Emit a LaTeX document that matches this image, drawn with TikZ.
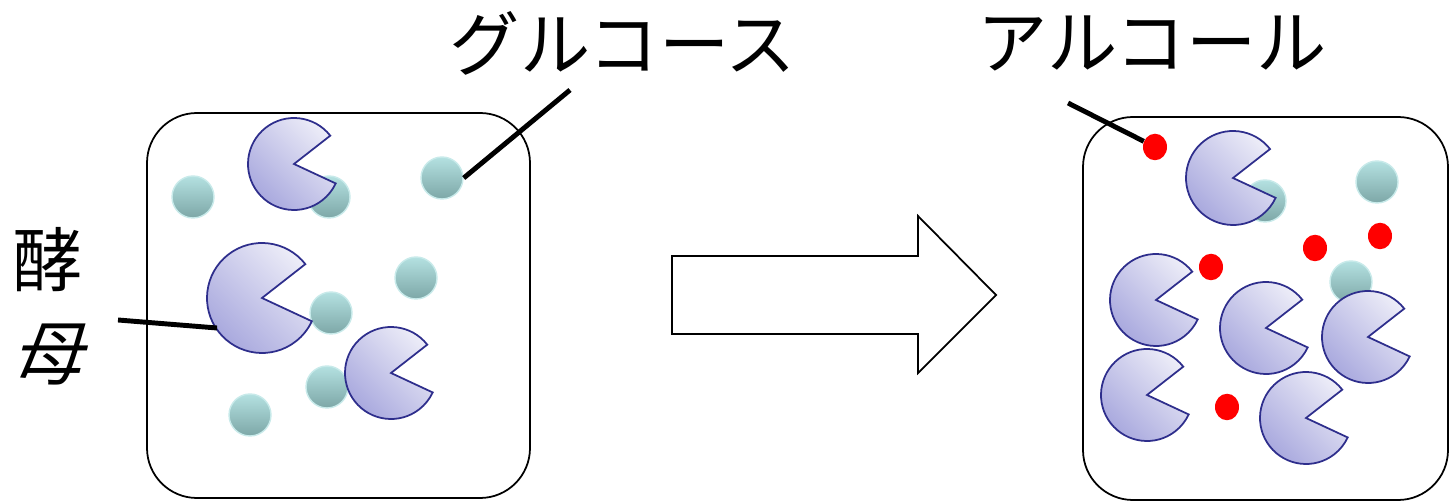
\documentclass[tikz,border=0pt]{standalone}
\usepackage{fontspec}
\newfontfamily\jpfont{Noto Sans CJK JP}
\newfontfamily\jpslant[FakeSlant=0.25]{Noto Sans CJK JP}
\usetikzlibrary{shapes.geometric, positioning}

\definecolor{yeastline}{HTML}{2E2E8C}
\definecolor{yeastlight}{HTML}{EDEDF8}
\definecolor{yeastdark}{HTML}{A4A4DC}
\definecolor{glutop}{HTML}{B4E1E1}
\definecolor{glubot}{HTML}{7DA7A7}
\definecolor{glurim}{HTML}{C8EAEA}

\tikzset{
  box/.style={draw, line width=1pt, rounded corners=1cm},
  glucose/.style={circle, minimum size=0.84cm, inner sep=0pt,
    top color=glutop, bottom color=glubot, draw=glurim, line width=0.8pt},
  alcohol/.style={ellipse, minimum width=0.48cm, minimum height=0.53cm,
    inner sep=0pt, fill=red},
  yeast/.style={draw=yeastline, line width=1pt, top color=yeastlight,
    bottom color=yeastdark, shading angle=-45},
  pointer/.style={line width=2.8pt},
  jplabel/.style={font=\jpfont\fontsize{40}{53}\selectfont, inner sep=0pt}
}

\begin{document}
\begin{tikzpicture}[x=0.02cm, y=-0.02cm]
\useasboundingbox (0,0) rectangle (1450,502);

% before: glucose + yeast
\draw[box] (147,113) rectangle (530,498);
\foreach \x/\y [count=\i] in {193/197, 329/197, 442/178, 416/278, 331/313, 327/387, 250/415}
  \node[glucose] (g\i) at (\x,\y) {};
\foreach \x/\y/\r in {294/164/46, 262/298/55, 391/373/46}
  \draw[yeast] (\x,\y) -- ++(-38:\r) arc (-38:-335:\r) -- cycle;
\coordinate (ybody) at (217,328);

% arrow
\draw[line width=1pt, fill=white] (672,256) -- (918,256) -- (918,216) -- (996,295)
  -- (918,373) -- (918,334) -- (672,334) -- cycle;

% after: alcohol
\draw[box] (1083,117) rectangle (1448,500);
\foreach \x/\y [count=\i] in {1265/201, 1377/182, 1351/282}
  \node[glucose] (h\i) at (\x,\y) {};
\foreach \x/\y/\r in {1233/178/47, 1156/300/46, 1266/328/46, 1368/337/46, 1147/395/46, 1306/418/46}
  \draw[yeast] (\x,\y) -- ++(-38:\r) arc (-38:-335:\r) -- cycle;
\foreach \x/\y [count=\i] in {1155/147, 1315/248, 1380/236, 1211/267, 1227/407}
  \node[alcohol] (a\i) at (\x,\y) {};

% labels
\node[jplabel] (glu) at (623,43) {グルコース};
\node[jplabel] (alc) at (1152,43) {アルコール};
\node[jplabel, align=center] (kobo) at (48,306) {酵\\{\jpslant 母}};

\coordinate (gtip) at (570,90);
\coordinate (ytip) at (118,320);
\coordinate (atip) at (1068,103);
\draw[pointer] (gtip) -- (g3.east);
\draw[pointer] (ytip) -- (ybody);
\draw[pointer] (atip) -- (a1);
\end{tikzpicture}
\end{document}
